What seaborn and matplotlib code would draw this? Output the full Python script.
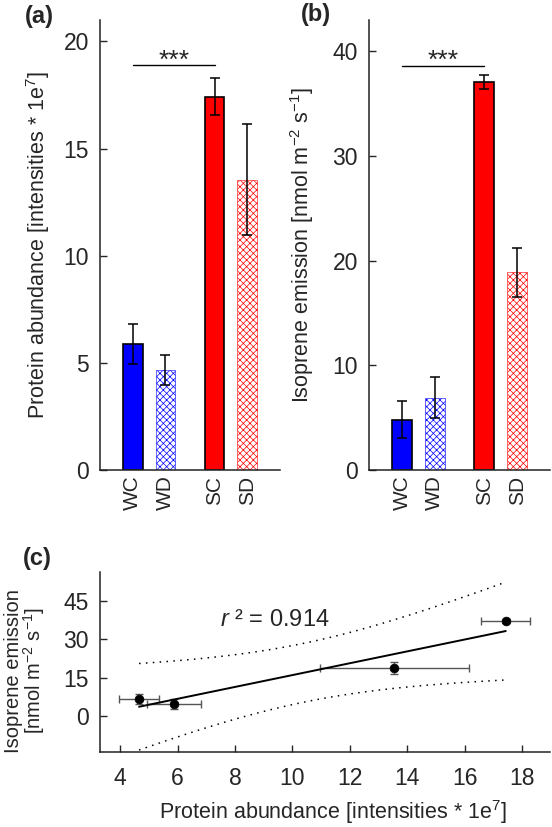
import numpy as np
import pandas as pd
import matplotlib
matplotlib.use('Agg')
import matplotlib.pyplot as plt
import seaborn as sns

# group means and standard errors
groups = ['WC', 'WD', 'SC', 'SD']
group_pos = [0, 1, 2.5, 3.5]
protein_mean = [5.87, 4.66, 17.43, 13.55]
protein_se = [0.93, 0.69, 0.85, 2.60]
isoprene_mean = [4.8, 6.9, 37.1, 18.9]
isoprene_se = [1.78, 1.97, 0.68, 2.35]
bar_colors = ['#0000ff', '#0000ff', '#ff0000', '#ff0000']
hatched = [False, True, False, True]

sns.set_style('ticks')
plt.rcParams['font.family'] = ['Liberation Sans', 'DejaVu Sans']
plt.rcParams['mathtext.fontset'] = 'custom'
plt.rcParams['mathtext.rm'] = 'Liberation Sans'
plt.rcParams['mathtext.it'] = 'Liberation Sans:italic'
plt.rcParams['hatch.linewidth'] = 0.5
plt.rcParams['axes.edgecolor'] = '#222222'
plt.rcParams['axes.linewidth'] = 1.1

W, H = 552, 827
fig = plt.figure(figsize=(W / 100, H / 100), dpi=100)


def px_axes(left, top, right, bottom):
    return fig.add_axes([left / W, 1 - bottom / H, (right - left) / W, (bottom - top) / H])


def bar_panel(ax, means, errs, ylim, yticks, ylabel, sig_y, star_y, label_x):
    df = pd.DataFrame({'pos': group_pos, 'val': means, 'grp': groups})
    sns.barplot(data=df, x='pos', y='val', hue='grp', palette=bar_colors, saturation=1,
                native_scale=True, width=0.6, errorbar=None, legend=False, ax=ax)
    for p, col, h in zip(ax.patches, bar_colors, hatched):
        if h:
            p.set_facecolor('white')
            p.set_edgecolor(col)
            p.set_hatch('xxxxx')
            p.set_linewidth(0.4)
        else:
            p.set_edgecolor('black')
            p.set_linewidth(1.2)
    ax.errorbar(group_pos, means, yerr=errs, fmt='none', ecolor='black',
                elinewidth=1.1, capsize=3.5, capthick=1.1)
    ax.plot([group_pos[0], group_pos[2]], [sig_y, sig_y], color='black', lw=1)
    ax.text((group_pos[0] + group_pos[2]) / 2, star_y, '***', ha='center',
            va='baseline', fontsize=19)
    ax.set_xlim(-1, 4.5)
    ax.set_ylim(*ylim)
    ax.set_yticks(yticks)
    ax.set_xticks(group_pos, groups)
    ax.set_xlabel('')
    ax.set_ylabel(ylabel, fontsize=15.5)
    ax.yaxis.set_label_coords(label_x, 0.5)
    ax.tick_params(axis='y', direction='in', length=5, width=1, pad=8, labelsize=16.5)
    ax.tick_params(axis='x', length=0, pad=4, labelsize=15, labelrotation=90)
    sns.despine(ax=ax)


ax_a = px_axes(100, 20, 280, 470)
bar_panel(ax_a, protein_mean, protein_se, (0, 21), [0, 5, 10, 15, 20],
          r'Protein abundance [intensities * 1e$^{7}$]', 18.9, 18.78, -0.267)

ax_b = px_axes(369, 20, 550, 470)
bar_panel(ax_b, isoprene_mean, isoprene_se, (0, 43), [0, 10, 20, 30, 40],
          r'Isoprene emission [nmol m$^{-2}$ s$^{-1}$]', 38.6, 38.45, -0.295)

# panel c: regression of isoprene emission on protein abundance
ax_c = px_axes(100, 572, 550, 752)
x = np.array(protein_mean)
y = np.array(isoprene_mean)
slope, intercept = np.polyfit(x, y, 1)
xs = np.linspace(x.min(), x.max(), 100)
fit = slope * xs + intercept
n = len(x)
s = np.sqrt(np.sum((y - (slope * x + intercept)) ** 2) / (n - 2))
t_crit = 4.303  # 95 %, df = 2
half = t_crit * s * np.sqrt(1 / n + (xs - x.mean()) ** 2 / np.sum((x - x.mean()) ** 2))

ax_c.errorbar(x, y, xerr=protein_se, yerr=isoprene_se, fmt='none',
              ecolor='#555555', elinewidth=1, capsize=3, capthick=1)
sns.lineplot(x=xs, y=fit, color='black', lw=1.4, ax=ax_c)
sns.lineplot(x=xs, y=fit + half, color='black', lw=1.1, ls=(0, (1, 3.5)), ax=ax_c)
sns.lineplot(x=xs, y=fit - half, color='black', lw=1.1, ls=(0, (1, 3.5)), ax=ax_c)
sns.scatterplot(x=x, y=y, color='black', s=40, edgecolor='black', zorder=5, ax=ax_c)
ax_c.text(7.48, 37.6, r'$\mathit{r}$ ² = 0.914', fontsize=17, va='center', ha='left')
ax_c.set_xlim(3.3, 18.97)
ax_c.set_ylim(-13.9, 56.2)
ax_c.set_xticks(range(4, 19, 2))
ax_c.set_yticks([0, 15, 30, 45])
ax_c.set_xlabel(r'Protein abundance [intensities * 1e$^{7}$]', fontsize=15.5)
ax_c.set_ylabel('Isoprene emission\n' + r'[nmol m$^{-2}$ s$^{-1}$]', fontsize=14.5,
                linespacing=0.9)
ax_c.yaxis.set_label_coords(-0.118, 0.452)
ax_c.xaxis.set_label_coords(0.518, -0.255)
ax_c.tick_params(axis='y', direction='in', length=5, width=1, pad=8, labelsize=16.5)
ax_c.tick_params(axis='x', direction='in', length=5, width=1, pad=11, labelsize=16.5)
sns.despine(ax=ax_c)

fig.text(39 / W, 1 - 17 / H, '(a)', fontsize=17, fontweight='bold', ha='center', va='center')
fig.text(316 / W, 1 - 15 / H, '(b)', fontsize=17, fontweight='bold', ha='center', va='center')
fig.text(37.5 / W, 1 - 558 / H, '(c)', fontsize=17, fontweight='bold', ha='center', va='center')

fig.savefig('out.png', dpi=100)
